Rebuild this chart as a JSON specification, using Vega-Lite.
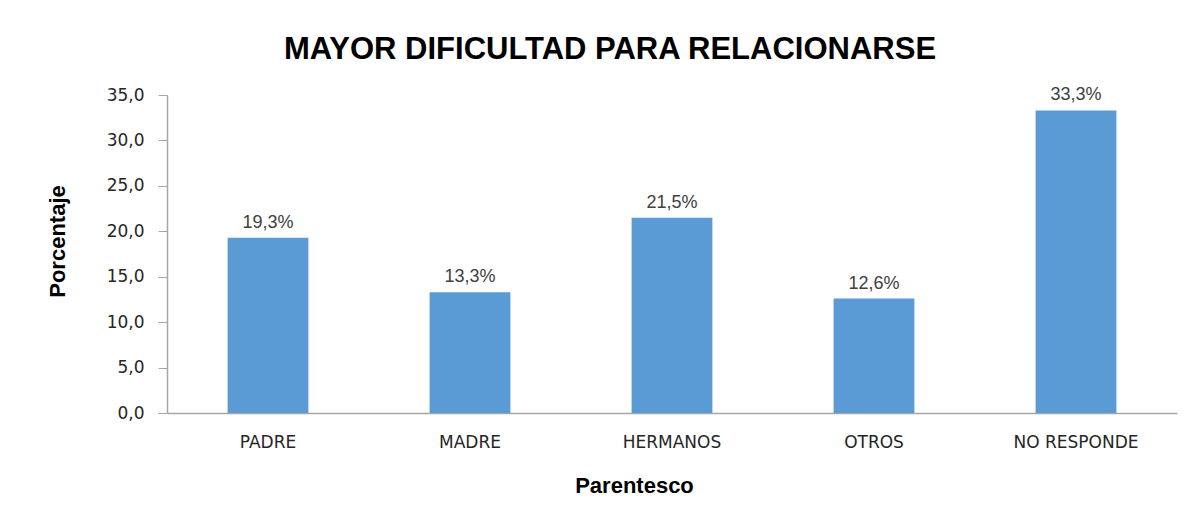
{
  "$schema": "https://vega.github.io/schema/vega-lite/v6.json",
  "autosize": {"type": "none"},
  "width": 1010,
  "height": 318,
  "padding": {"left": 167, "top": 95, "right": 20, "bottom": 102},
  "background": "white",
  "title": {
    "text": "MAYOR DIFICULTAD PARA RELACIONARSE",
    "font": "Liberation Sans",
    "fontSize": 31,
    "fontWeight": "bold",
    "color": "#000000",
    "anchor": "middle",
    "dx": -62,
    "offset": 20
  },
  "data": {
    "values": [
      {"parentesco": "PADRE", "pct": 19.3},
      {"parentesco": "MADRE", "pct": 13.3},
      {"parentesco": "HERMANOS", "pct": 21.5},
      {"parentesco": "OTROS", "pct": 12.6},
      {"parentesco": "NO RESPONDE", "pct": 33.3}
    ]
  },
  "transform": [
    {"calculate": "replace(format(datum.pct, '.1f'), '.', ',') + '%'", "as": "label"}
  ],
  "encoding": {
    "x": {
      "field": "parentesco",
      "type": "nominal",
      "sort": null,
      "scale": {"paddingInner": 0.6, "paddingOuter": 0.3},
      "axis": {
        "title": "Parentesco",
        "titleFont": "Liberation Sans",
        "titleFontSize": 22,
        "titleFontWeight": "bold",
        "titleColor": "#000000",
        "titleX": 467,
        "titlePadding": 25,
        "labelFont": "DejaVu Sans",
        "labelFontSize": 17,
        "labelColor": "#262626",
        "labelAngle": 0,
        "labelPadding": 21,
        "ticks": false,
        "domainColor": "#a6a6a6",
        "domainWidth": 1.5,
        "grid": false
      }
    },
    "y": {
      "field": "pct",
      "type": "quantitative",
      "scale": {"domain": [0, 35], "nice": false},
      "axis": {
        "title": "Porcentaje",
        "titleFont": "Liberation Sans",
        "titleFontSize": 22,
        "titleFontWeight": "bold",
        "titleColor": "#000000",
        "titlePadding": 37,
        "titleY": 146,
        "values": [0, 5, 10, 15, 20, 25, 30, 35],
        "labelExpr": "replace(format(datum.value, '.1f'), '.', ',')",
        "labelFont": "DejaVu Sans",
        "labelFontSize": 17,
        "labelColor": "#262626",
        "labelPadding": 14,
        "tickSize": 9,
        "tickColor": "#a6a6a6",
        "domainColor": "#a6a6a6",
        "domainWidth": 1.5,
        "grid": false
      }
    }
  },
  "layer": [
    {"mark": {"type": "bar", "color": "#5B9BD5"}},
    {
      "mark": {
        "type": "text",
        "baseline": "bottom",
        "dy": -6,
        "font": "Liberation Sans",
        "fontSize": 18,
        "color": "#404040"
      },
      "encoding": {"text": {"field": "label"}}
    }
  ],
  "config": {"view": {"stroke": null}}
}
